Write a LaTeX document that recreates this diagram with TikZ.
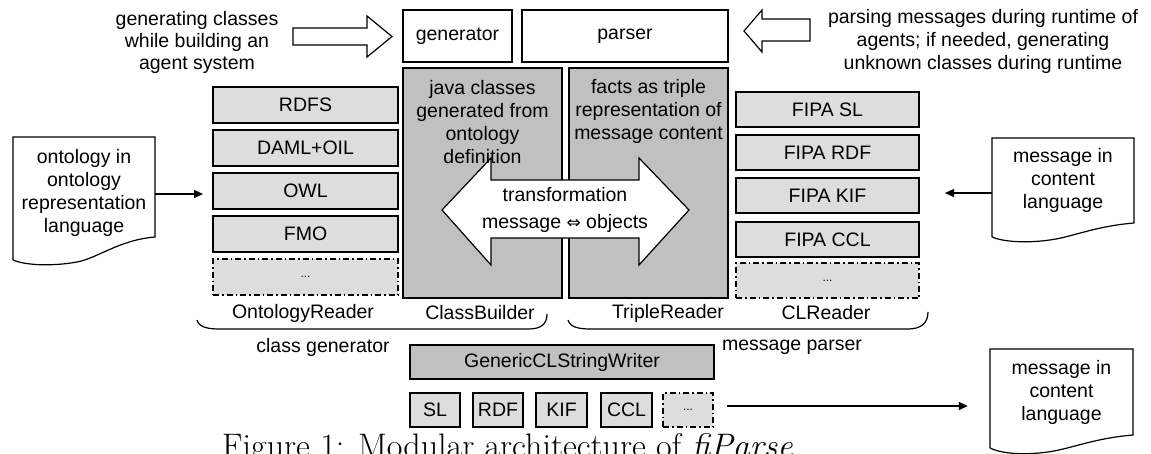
\documentclass[tikz,border=0pt]{standalone}
\usepackage{fontspec}
\newfontfamily\arialf{Liberation Sans}
\newfontfamily\djv{DejaVu Sans}
\usetikzlibrary{arrows.meta}
\definecolor{lgray}{RGB}{221,221,221}
\definecolor{dgray}{RGB}{192,192,192}
\begin{document}
\begin{tikzpicture}[x=1pt,y=-1pt,
  every node/.style={font=\arialf\fontsize{19.5}{23}\selectfont, inner sep=0pt},
  lw/.style={line width=1.2pt},
  plainbox/.style={draw, lw, fill=white},
  lbox/.style={draw, lw, fill=lgray, minimum width=#1},
  dbox/.style={draw, lw, fill=dgray},
  dotbox/.style={draw, lw, fill=lgray, dash pattern=on 6pt off 3pt on 1.5pt off 3pt, minimum width=#1, font=\arialf\fontsize{12}{14}\selectfont},
  frame/.style={minimum height=2pt},
  arr/.style={lw, -{Triangle[length=9pt,width=8pt]}},
  hollow/.style={draw, lw, fill=white, line join=miter}]
\useasboundingbox (0,0) rectangle (1151,453);

% top row
\node[plainbox, minimum width=109, minimum height=52] (gen) at (457.5,36) {generator};
\node[plainbox, minimum width=206, minimum height=52] (par) at (625,36) {parser};

% hollow arrows and texts
\draw[hollow] (293,28) -- (367,28) -- (367,16) -- (392,36.5) -- (367,57) -- (367,45) -- (293,45) -- cycle;
\draw[hollow] (810,19) -- (762,19) -- (762,10) -- (744,31) -- (762,52) -- (762,41) -- (810,41) -- cycle;
\node[align=center, font=\arialf\fontsize{19.5}{22}\selectfont] (lt) at (197,42) {generating classes\\while building an\\agent system};
\node[align=center] (rt) at (983,41.5) {parsing messages during runtime of\\agents; if needed, generating\\unknown classes during runtime};

% central big boxes
\node[dbox, minimum width=159, minimum height=230] (java) at (482.5,183) {};
\node[dbox, minimum width=159, minimum height=230] (facts) at (648.5,183) {};

% double arrow
\draw[hollow] (442,210) -- (491,158) -- (491,180) -- (639,180) -- (639,158) -- (689,210) -- (639,265) -- (639,238) -- (491,238) -- (491,265) -- cycle;

\node[align=center] (javat) at (482.5,122.5) {java classes\\generated from\\ontology\\definition};
\node[align=center] (factst) at (648.5,111) {facts as triple\\representation of\\message content};
\node (tr1) at (565,195) {transformation};
\node (tr2) at (565,223) {message {\djv\fontsize{17}{20}\selectfont ⇔} objects};

% left column
\node[lbox=185, minimum height=36] (rdfs) at (305.5,105) {RDFS};
\node[lbox=185, minimum height=36] (daml) at (305.5,148) {DAML+OIL};
\node[lbox=185, minimum height=36] (owl) at (305.5,191) {OWL};
\node[lbox=185, minimum height=36] (fmo) at (305.5,234) {FMO};
\node[dotbox=185, minimum height=36] (ldots) at (305.5,277) {...};

% right column
\node[lbox=183, minimum height=35] (fsl) at (827.5,109.5) {FIPA SL};
\node[lbox=183, minimum height=35] (frdf) at (827.5,152.5) {FIPA RDF};
\node[lbox=183, minimum height=35] (fkif) at (827.5,195.5) {FIPA KIF};
\node[lbox=183, minimum height=35] (fccl) at (827.5,239.5) {FIPA CCL};
\node[dotbox=183, minimum height=35] (rdots) at (827.5,280.5) {...};

% documents
\begin{scope}[shift={(13,137)}]
\draw[lw] (0,123) -- (0,0) -- (142,0) -- (142,100) .. controls (106,103) and (85,121) .. (64,125) .. controls (42,129) and (14,129) .. (0,123);
\end{scope}
\node[frame, minimum width=142] (ldoc) at (84,194) {};
\node[align=center] (ldoct) at (84,193) {ontology in\\ontology\\representation\\language};
\coordinate (ldocend) at (203,194);
\draw[arr] (ldoc.east) -- (ldocend);

\begin{scope}[shift={(992,138)}]
\draw[lw] (0,99) -- (0,0) -- (142,0) -- (142,85) .. controls (106,88) and (85,97) .. (64,101) .. controls (42,105) and (14,105) .. (0,99);
\end{scope}
\node[frame, minimum width=142] (mdoc) at (1063,193) {};
\node[align=center] (mdoct) at (1063,180) {message in\\content\\language};
\coordinate (mdocend) at (945,193);
\draw[arr] (mdoc.west) -- (mdocend);

\begin{scope}[shift={(990,349)}]
\draw[lw] (0,99) -- (0,0) -- (143,0) -- (143,86) .. controls (107,89) and (85,98) .. (64,102) .. controls (42,106) and (14,106) .. (0,99);
\end{scope}
\node[frame, minimum width=143] (bdoc) at (1061.5,406) {};
\node[align=center] (bdoct) at (1061.5,392) {message in\\content\\language};

% braces and labels
\draw[lw] (197,320) .. controls (199,327) and (207,329) .. (220,329) -- (528,329) .. controls (540,329) and (547,325) .. (547,314);
\draw[lw] (568,320) .. controls (570,327) and (578,329) .. (591,329) -- (908,329) .. controls (921,329) and (928,323) .. (928,312);
\node (orl) at (303,313) {OntologyReader};
\node (cbl) at (480,313) {ClassBuilder};
\node (trl) at (668,313) {TripleReader};
\node (cll) at (826,313) {CLReader};
\node (cgl) at (323,347) {class generator};
\node (mpl) at (792,347) {message parser};

% writer
\node[dbox, minimum width=304, minimum height=34] (writer) at (562,362) {GenericCLStringWriter};
\node[lbox=50, minimum height=34] (wsl) at (435,410) {SL};
\node[lbox=50, minimum height=34] (wrdf) at (498,410) {RDF};
\node[lbox=51, minimum height=34] (wkif) at (561.5,410) {KIF};
\node[lbox=51, minimum height=34] (wccl) at (626.5,410) {CCL};
\node[dotbox=50, minimum height=34] (wdots) at (688,410) {...};
\coordinate (bstart) at (727,406);
\draw[arr, shorten >=22pt] (bstart) -- (bdoc.west);

% caption
\node[font=\rmfamily\fontsize{34}{40}\selectfont, anchor=base west] (cap) at (222,457) {Figure 1: Modular architecture of \textit{fiParse}.};
\end{tikzpicture}
\end{document}
